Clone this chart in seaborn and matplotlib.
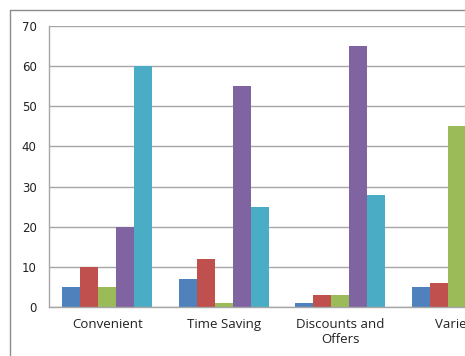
import pandas as pd
import matplotlib.pyplot as plt
import seaborn as sns
from matplotlib.lines import Line2D

# Data (Variety's last two bars are cut off in the original)
categories = ["Convenient", "Time Saving", "Discounts and\nOffers", "Variety"]
series = ["Series 1", "Series 2", "Series 3", "Series 4", "Series 5"]
series_1 = [5, 7, 1, 5]
series_2 = [10, 12, 3, 6]
series_3 = [5, 1, 3, 45]
series_4 = [20, 55, 65, 25]
series_5 = [60, 25, 28, 20]
colors = ["#4F81BD", "#C0504D", "#9BBB59", "#8064A2", "#4BACC6"]

rows = []
for name, vals in zip(series, [series_1, series_2, series_3, series_4, series_5]):
    for cat, v in zip(categories, vals):
        rows.append({"Category": cat, "Series": name, "Value": v})
df = pd.DataFrame(rows)

sns.set_style("white")
plt.rcParams['font.family'] = ['Open Sans', 'DejaVu Sans']

fig = plt.figure(figsize=(4.65, 3.56), dpi=100)
# axes run past the right edge, like the cropped original
ax = fig.add_axes([49 / 465, 49 / 356, 466 / 465, 281 / 356])

sns.barplot(data=df, x="Category", y="Value", hue="Series", order=categories,
            hue_order=series, palette=colors, width=0.77, saturation=1,
            errorbar=None, legend=False, linewidth=0, ax=ax)

ax.set_xlim(-0.5, 3.5)
ax.set_ylim(0, 70)
ax.set_yticks(range(0, 71, 10))
ax.set_xlabel("")
ax.set_ylabel("")

ax.yaxis.grid(True, color="#a6a6a6", lw=1)
ax.set_axisbelow(True)
for side in ["top", "right"]:
    ax.spines[side].set_visible(False)
for side in ["left", "bottom"]:
    ax.spines[side].set_color("#a6a6a6")
    ax.spines[side].set_linewidth(1)

ax.tick_params(axis="y", which="major", direction="out", length=4, width=1,
               color="#a6a6a6", pad=5, labelsize=8.5, labelcolor="#222222")
ax.tick_params(axis="x", which="major", length=0, pad=8, labelsize=9.5,
               labelcolor="#222222")
ax.set_xticks([i + 0.5 for i in range(-1, 4)], minor=True)
ax.tick_params(axis="x", which="minor", direction="out", length=4, width=1,
               color="#a6a6a6")
for lab in ax.get_yticklabels():
    lab.set_family("DejaVu Sans")

# chart frame
gray = "#8c8c8c"
fig.add_artist(Line2D([10 / 465, 1], [1 - 10 / 356] * 2, transform=fig.transFigure,
                      color=gray, lw=1))
fig.add_artist(Line2D([10 / 465] * 2, [0, 1 - 10 / 356], transform=fig.transFigure,
                      color=gray, lw=1))

fig.savefig("out.png", dpi=100)
